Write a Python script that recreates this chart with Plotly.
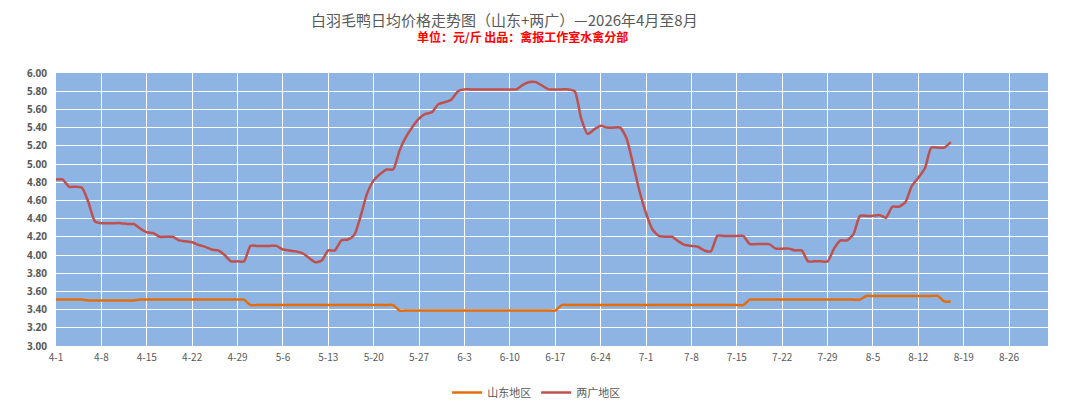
import datetime as dt
import plotly.graph_objects as go

## daily prices, 4-1 .. 8-17 (yuan / jin)
start = dt.date(2026, 4, 1)

guangdong = [
    4.83, 4.83, 4.75, 4.75, 4.74, 4.58, 4.37, 4.35, 4.35, 4.35,
    4.35, 4.34, 4.34, 4.29, 4.25, 4.24, 4.20, 4.20, 4.20, 4.16,
    4.15, 4.14, 4.11, 4.09, 4.06, 4.05, 4.00, 3.93, 3.93, 3.93,
    4.10, 4.10, 4.10, 4.10, 4.10, 4.06, 4.05, 4.04, 4.02, 3.97,
    3.92, 3.94, 4.05, 4.05, 4.16, 4.17, 4.22, 4.43, 4.68, 4.82,
    4.89, 4.94, 4.94, 5.15, 5.30, 5.41, 5.50, 5.55, 5.57, 5.66,
    5.68, 5.71, 5.80, 5.82, 5.82, 5.82, 5.82, 5.82, 5.82, 5.82,
    5.82, 5.82, 5.87, 5.90, 5.90, 5.86, 5.82, 5.82, 5.82, 5.82,
    5.80, 5.50, 5.33, 5.38, 5.42, 5.40, 5.40, 5.40, 5.28, 5.00,
    4.70, 4.46, 4.28, 4.21, 4.20, 4.20, 4.15, 4.11, 4.10, 4.09,
    4.05, 4.04, 4.21, 4.21, 4.21, 4.21, 4.21, 4.12, 4.12, 4.12,
    4.12, 4.07, 4.07, 4.07, 4.05, 4.05, 3.93, 3.93, 3.93, 3.93,
    4.07, 4.16, 4.16, 4.23, 4.43, 4.43, 4.43, 4.44, 4.41, 4.53,
    4.53, 4.58, 4.76, 4.85, 4.95, 5.18, 5.18, 5.18, 5.24,
]

shandong = (
    [3.51] * 5 + [3.50] * 8 + [3.51] * 17 + [3.45] * 23 + [3.39] * 25
    + [3.45] * 29 + [3.51] * 18 + [3.55] * 12 + [3.49] * 2
)

dates = [start + dt.timedelta(days=i) for i in range(len(guangdong))]

fig = go.Figure()

fig.add_trace(go.Scatter(x=dates, y=shandong, name="山东地区", mode="lines",
                         line=dict(color="#E46C0A", width=2.5, shape="spline", smoothing=0.6)))
fig.add_trace(go.Scatter(x=dates, y=guangdong, name="两广地区", mode="lines",
                         line=dict(color="#C0504D", width=2.5, shape="spline", smoothing=0.6)))

grey = "#595959"
fig.update_xaxes(
    range=["2026-04-01", "2026-09-01"],
    tick0="2026-04-01", dtick=7 * 24 * 3600 * 1000, tickformat="%-m-%-d",
    showgrid=True, gridcolor="white", gridwidth=1,
    tickfont=dict(family="Noto Sans CJK SC", size=10, color=grey),
    ticks="", zeroline=False, automargin=False, ticklabelstandoff=4,
)
fig.update_yaxes(
    range=[3.0, 6.0], dtick=0.2, tickformat=".2f",
    showgrid=True, gridcolor="white", gridwidth=1,
    tickfont=dict(family="Open Sans", size=10, color=grey, weight="bold"),
    zeroline=False, automargin=False, ticklabelstandoff=8,
)

## page body has an 8px offset, so margins are shifted left/up by that amount
fig.add_annotation(text="白羽毛鸭日均价格走势图（山东+两广）—2026年4月至8月",
                   xref="paper", yref="paper", x=0.4526, y=1.0, yshift=54,
                   showarrow=False, yanchor="middle",
                   font=dict(family="Noto Sans CJK SC", size=15, color=grey))
fig.add_annotation(text="<b>单位：元/斤 出品：禽报工作室水禽分部</b>",
                   xref="paper", yref="paper", x=0.47, y=1.0, yshift=37,
                   showarrow=False, yanchor="middle",
                   font=dict(family="Noto Sans CJK SC", size=12, color="#FF0000"))

fig.update_layout(
    width=1080, height=411,
    margin=dict(l=48, r=40, t=65, b=73),
    plot_bgcolor="#8DB4E2", paper_bgcolor="white",
    showlegend=True,
    legend=dict(orientation="h", x=0.484, xanchor="center", y=-0.17, yanchor="middle",
                font=dict(family="Noto Sans CJK SC", size=11, color=grey),
                itemwidth=30),
)

fig.write_html("out.html")
